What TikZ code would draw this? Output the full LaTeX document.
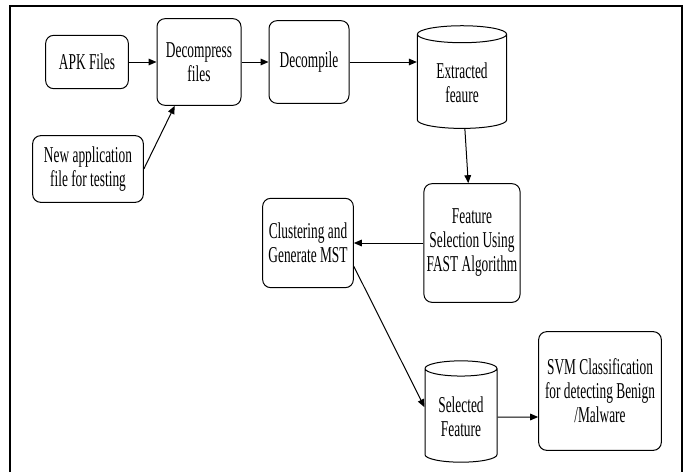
\documentclass[tikz,border=0pt]{standalone}
\usepackage{fontspec}
\setmainfont[FakeStretch=0.59]{Liberation Serif}
\usepackage{tikz}
\usetikzlibrary{arrows,arrows.meta,shapes.geometric}
\tikzstyle{step box}=[draw,rounded corners=6pt,align=center,inner sep=2pt]
\tikzstyle{store}=[draw,cylinder,shape border rotate=90,aspect=0.3,align=center,inner sep=2pt]
\tikzstyle{flow}=[-{Triangle[length=6pt,width=5pt]}]

\begin{document}
\begin{tikzpicture}[x=0.75pt,y=-0.75pt,line width=0.75pt,font=\fontsize{17pt}{18pt}\selectfont]
\useasboundingbox (0,0) rectangle (686,472);
\draw[line width=1.5pt] (10,472) -- (10,6) -- (682,6) -- (682,472);
\draw (87, 62) node [step box,minimum width=62pt,minimum height=40pt] (apk) {APK Files};
\draw (199, 62) node [step box,minimum width=63pt,minimum height=65pt] (decomp) {Decompress\\files};
\draw (309, 62) node [step box,minimum width=60pt,minimum height=62pt] (decompile) {Decompile};
\draw (88, 169) node [step box,minimum width=83pt,minimum height=50pt] (newapp) {New application\\file for testing};
\draw (462, 83) node [store,minimum width=67pt,minimum height=77pt] (extr) {Extracted\\feaure};
\draw (472, 243) node [step box,minimum width=72pt,minimum height=89pt] (fast) {Feature\\Selection Using\\FAST Algorithm};
\draw (308, 243) node [step box,minimum width=68pt,minimum height=67pt] (mst) {Clustering and\\Generate MST};
\draw (461, 417) node [store,minimum width=54pt,minimum height=76pt] (sel) {Selected\\Feature};
\draw (600, 391) node [step box,minimum width=92pt,minimum height=89pt] (svm) {SVM Classification\\for detecting Benign\\/Malware};
\draw[flow] (apk) -- (decomp);
\draw[flow] (decomp) -- (decompile);
\draw[flow] (decompile) -- (extr.west |- decompile);
\draw[flow] (newapp.east) -- (decomp.-119);
\draw[flow] (extr) -- (fast);
\draw[flow] (fast) -- (mst);
\draw[flow] (mst.-27) -- (sel.165);
\draw[flow] (sel) -- (sel -| svm.west);
\end{tikzpicture}
\end{document}
